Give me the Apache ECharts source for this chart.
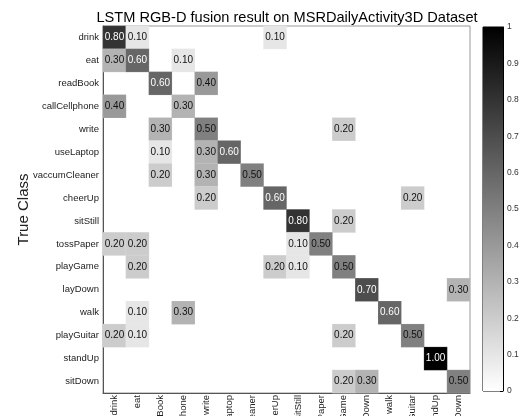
<!DOCTYPE html>
<html>
<head>
<meta charset="utf-8">
<script src="https://cdn.jsdelivr.net/npm/echarts@6/dist/echarts.min.js"></script>
<style>html,body{margin:0;padding:0;background:#fff;}#c{width:523px;height:416px;}</style>
</head>
<body>
<div id="c"></div>
<script>
const classes = ['drink','eat','readBook','callCellphone','write','useLaptop','vaccumCleaner','cheerUp','sitStill','tossPaper','playGame','layDown','walk','playGuitar','standUp','sitDown'];
const rowDrink         = [0.8,0.1,0,0,0,0,0,0.1,0,0,0,0,0,0,0,0];
const rowEat           = [0.3,0.6,0,0.1,0,0,0,0,0,0,0,0,0,0,0,0];
const rowReadBook      = [0,0,0.6,0,0.4,0,0,0,0,0,0,0,0,0,0,0];
const rowCallCellphone = [0.4,0,0,0.3,0,0,0,0,0,0,0,0,0,0,0,0];
const rowWrite         = [0,0,0.3,0,0.5,0,0,0,0,0,0.2,0,0,0,0,0];
const rowUseLaptop     = [0,0,0.1,0,0.3,0.6,0,0,0,0,0,0,0,0,0,0];
const rowVaccumCleaner = [0,0,0.2,0,0.3,0,0.5,0,0,0,0,0,0,0,0,0];
const rowCheerUp       = [0,0,0,0,0.2,0,0,0.6,0,0,0,0,0,0.2,0,0];
const rowSitStill      = [0,0,0,0,0,0,0,0,0.8,0,0.2,0,0,0,0,0];
const rowTossPaper     = [0.2,0.2,0,0,0,0,0,0,0.1,0.5,0,0,0,0,0,0];
const rowPlayGame      = [0,0.2,0,0,0,0,0,0.2,0.1,0,0.5,0,0,0,0,0];
const rowLayDown       = [0,0,0,0,0,0,0,0,0,0,0,0.7,0,0,0,0.3];
const rowWalk          = [0,0.1,0,0.3,0,0,0,0,0,0,0,0,0.6,0,0,0];
const rowPlayGuitar    = [0.2,0.1,0,0,0,0,0,0,0,0,0.2,0,0,0.5,0,0];
const rowStandUp       = [0,0,0,0,0,0,0,0,0,0,0,0,0,0,1.0,0];
const rowSitDown       = [0,0,0,0,0,0,0,0,0,0,0.2,0.3,0,0,0,0.5];
const colorbarTicks = [0,0.1,0.2,0.3,0.4,0.5,0.6,0.7,0.8,0.9,1];

const rows = [rowDrink,rowEat,rowReadBook,rowCallCellphone,rowWrite,rowUseLaptop,rowVaccumCleaner,rowCheerUp,rowSitStill,rowTossPaper,rowPlayGame,rowLayDown,rowWalk,rowPlayGuitar,rowStandUp,rowSitDown];
const data = [];
rows.forEach((r, yi) => r.forEach((v, xi) => {
  if (v > 0) data.push({value: [xi, yi, v], label: {color: v > 0.5 ? '#ffffff' : '#111111'}});
}));

const FF = '"Liberation Sans", Arial, sans-serif';
const chart = echarts.init(document.getElementById('c'), null, {renderer: 'canvas'});
chart.setOption({
  animation: false,
  backgroundColor: '#fff',
  textStyle: {fontFamily: FF},
  title: {
    text: 'LSTM RGB-D fusion result on MSRDailyActivity3D Dataset',
    left: 282, top: 5, textAlign: 'center',
    textStyle: {fontFamily: FF, fontSize: 14.6, fontWeight: 'normal', color: '#000'}
  },
  grid: [
    {left: 103, top: 26, width: 367, height: 367, show: true, borderColor: '#999', borderWidth: 1, containLabel: false, outerBoundsMode: 'none'},
    {left: 483, top: 27, width: 20, height: 364, show: true, borderColor: '#000', borderWidth: 1, containLabel: false, outerBoundsMode: 'none'}
  ],
  xAxis: [
    {type: 'category', data: classes, gridIndex: 0,
     axisLine: {show: true, lineStyle: {color: '#555'}},
     axisTick: {show: false}, splitLine: {show: false},
     axisLabel: {rotate: 90, fontSize: 9.5, color: '#222', fontFamily: FF, interval: 0, margin: 2}},
    {type: 'category', data: ['cb'], gridIndex: 1, show: false}
  ],
  yAxis: [
    {type: 'category', data: classes, inverse: true, gridIndex: 0,
     name: 'True Class', nameLocation: 'middle', nameGap: 72, nameRotate: 90, nameMoveOverlap: false,
     nameTextStyle: {fontSize: 15, color: '#222', fontFamily: FF},
     axisLine: {show: true, lineStyle: {color: '#555'}},
     axisTick: {show: false}, splitLine: {show: false},
     axisLabel: {fontSize: 9.5, color: '#222', fontFamily: FF, interval: 0, margin: 4}},
    {type: 'value', gridIndex: 1, min: 0, max: 1, interval: 0.1, position: 'right',
     axisLine: {show: true, lineStyle: {color: '#000'}},
     axisTick: {show: true, inside: true, length: 3, lineStyle: {color: '#000'}},
     splitLine: {show: false},
     axisLabel: {fontSize: 8.5, color: '#333', fontFamily: FF, margin: 4,
                 formatter: v => String(Math.round(v * 10) / 10)}}
  ],
  visualMap: {show: false, min: 0, max: 1, seriesIndex: 0, inRange: {color: ['#ffffff', '#000000']}},
  series: [
    {type: 'heatmap', xAxisIndex: 0, yAxisIndex: 0, data: data,
     itemStyle: {borderColor: 'rgba(255,255,255,0.25)', borderWidth: 0.5},
     label: {show: true, fontSize: 10, fontFamily: FF, formatter: p => p.value[2].toFixed(2)}},
    {type: 'bar', xAxisIndex: 1, yAxisIndex: 1, data: [colorbarTicks[colorbarTicks.length - 1]], barWidth: '100%',
     itemStyle: {color: new echarts.graphic.LinearGradient(0, 0, 0, 1, [{offset: 0, color: '#000000'}, {offset: 1, color: '#ffffff'}])}}
  ]
});
</script>
</body>
</html>
